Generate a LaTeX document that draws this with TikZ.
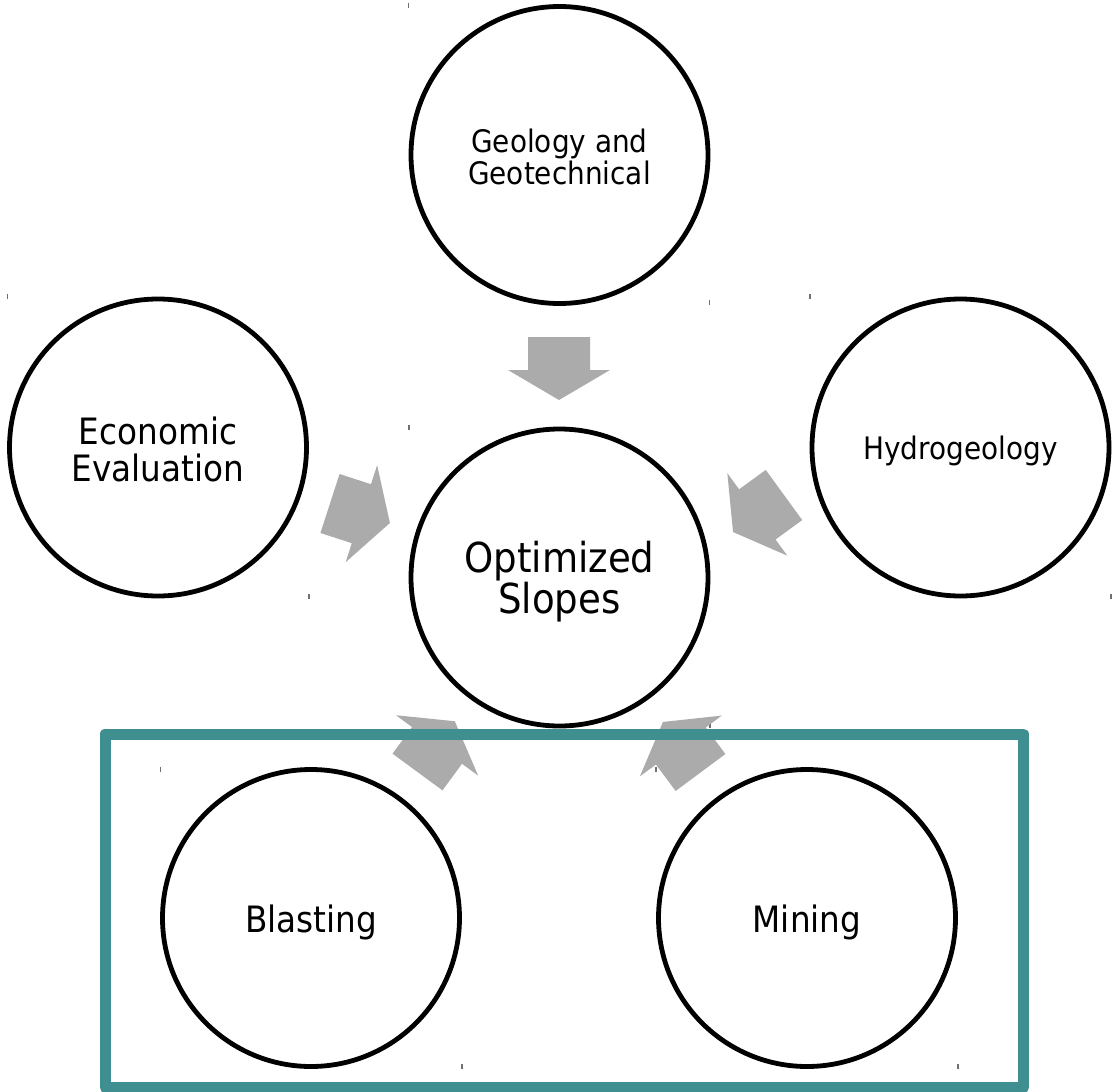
\documentclass[tikz,border=0pt]{standalone}
\usepackage{fontspec}
\setmainfont{DejaVu Sans}[FakeStretch=0.9]
\definecolor{arrowgray}{HTML}{ABABAB}
\definecolor{tealframe}{HTML}{3F8E90}
\definecolor{tickgray}{HTML}{707070}
\begin{document}
\begin{tikzpicture}[x=1pt,y=-1pt,
  circ/.style={circle,draw=black,line width=4.8pt,fill=white,minimum size=297pt,inner sep=0pt},
  lbl/.style={align=center,text=black,inner sep=0pt},
  lblsmall/.style={lbl,font=\fontsize{31}{31.5}\selectfont},
  lblmid/.style={lbl,font=\fontsize{36.3}{37}\selectfont},
  lblbig/.style={lbl,font=\fontsize{41.25}{38}\selectfont},
  groupbox/.style={draw=tealframe,line width=11pt,line join=round,inner sep=0pt},
  tickmark/.style={draw=tickgray,line width=1.5pt},
  blockarrow/.pic={\fill[arrowgray] (0,-31) -- (33,-31) -- (33,-51) -- (63,0) -- (33,51) -- (33,31) -- (0,31) -- cycle;}
]
\useasboundingbox (0,0) rectangle (1114,1092);
\fill[white] (0,0) rectangle (1114,1092);

% circles
\node[circ] (geo) at (559.5,155) {};
\node[circ] (opt) at (559.5,577.5) {};
\node[circ] (eco) at (158,447.5) {};
\node[circ] (hyd) at (960.5,447.5) {};
\node[circ] (bla) at (311,918) {};
\node[circ] (min) at (807,918) {};

% labels
\node[lblsmall] (geo-text) at ([yshift=-2pt]geo.center) {Geology and\\Geotechnical};
\node[lblbig] (opt-text) at ([yshift=-4pt]opt.center) {Optimized\\Slopes};
\node[lblmid] (eco-text) at ([yshift=-2pt]eco.center) {Economic\\Evaluation};
\node[lblsmall] (hyd-text) at ([yshift=-3.5pt]hyd.center) {Hydrogeology};
\node[lblmid] (bla-text) at ([yshift=-4pt]bla.center) {Blasting};
\node[lblmid] (min-text) at ([yshift=-4pt]min.center) {Mining};

% small tick marks at the corners of the circles' boxes
\draw[tickmark] (408.5,2.5) -- (408.5,7.5);
\draw[tickmark] (709.5,300) -- (709.5,305);
\draw[tickmark] (7.5,294) -- (7.5,299);
\draw[tickmark] (309,594) -- (309,599);
\draw[tickmark] (810,294) -- (810,299);
\draw[tickmark] (1111,594) -- (1111,599);
\draw[tickmark] (409,425) -- (409,430);
\draw[tickmark] (710,723) -- (710,728);
\draw[tickmark] (160.5,766.5) -- (160.5,771.5);
\draw[tickmark] (462,1064) -- (462,1069);
\draw[tickmark] (656,766.5) -- (656,771.5);
\draw[tickmark] (958,1064) -- (958,1069);

% block arrows toward the centre
\pic[rotate=-90] at (559,337) {blockarrow};
\pic[rotate=-18] at (330,503.5) {blockarrow};
\pic[rotate=-144] at (784,495) {blockarrow};
\pic[rotate=53.7] at (417.5,772) {blockarrow};
\pic[rotate=126.6] at (700.5,772.5) {blockarrow};

% group frame
\node[groupbox,minimum width=918.5pt,minimum height=353.5pt] (grp) at (564.25,910.75) {};
\end{tikzpicture}
\end{document}
